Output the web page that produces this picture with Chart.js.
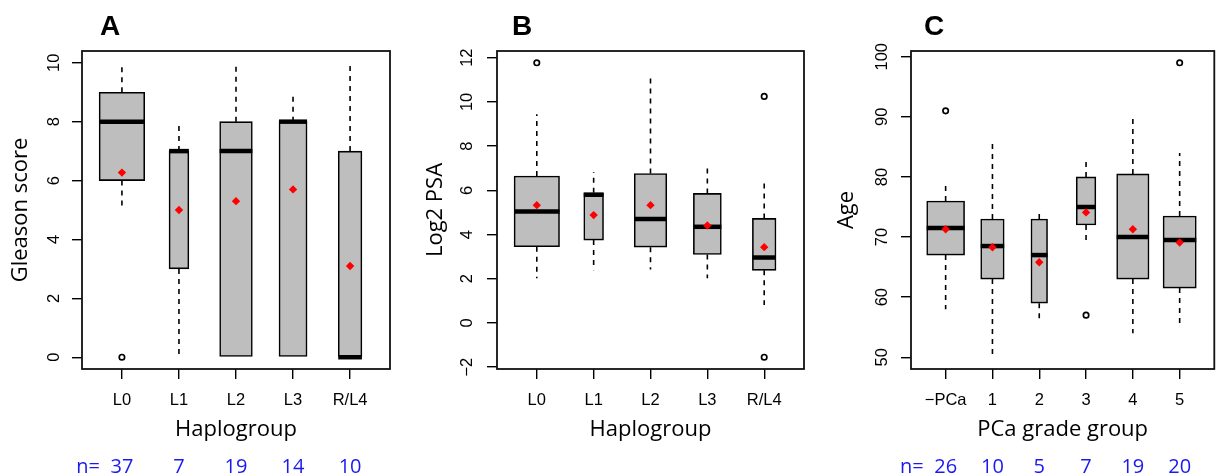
<!DOCTYPE html>
<html>
<head>
<meta charset="utf-8">
<script src="https://cdn.jsdelivr.net/npm/chart.js@4.4.1/dist/chart.umd.min.js"></script>
<style>
  body { margin: 0; background: #fff; }
  #wrap { position: relative; width: 1220px; height: 476px; overflow: hidden; }
  canvas { position: absolute; top: 0; }
</style>
</head>
<body>
<div id="wrap">
  <canvas id="chartA" width="405" height="476" style="left:0"></canvas>
  <canvas id="chartB" width="410" height="476" style="left:405px"></canvas>
  <canvas id="chartC" width="405" height="476" style="left:815px"></canvas>
</div>
<script>
// ---- A: Gleason score by haplogroup ----
const haploGroups = ['L0', 'L1', 'L2', 'L3', 'R/L4'];
const haploCounts = [37, 7, 19, 14, 10];
const gleasonLow = [5, 0, 0, 0, 0];
const gleasonQ1 = [6, 3, 0, 0, 0];
const gleasonMedian = [8, 7, 7, 8, 0];
const gleasonQ3 = [9, 7, 8, 8, 7];
const gleasonHigh = [10, 8, 10, 9, 10];
const gleasonMean = [6.27, 5.0, 5.3, 5.7, 3.1];
const gleasonOutliers = [[0], [], [], [], []];
const gleasonTicks = [0, 2, 4, 6, 8, 10];

// ---- B: log2 PSA by haplogroup ----
const psaLow = [2.02, 2.39, 2.42, 2.02, 0.81];
const psaQ1 = [3.45, 3.75, 3.43, 3.10, 2.38];
const psaMedian = [5.04, 5.80, 4.70, 4.35, 2.96];
const psaQ3 = [6.65, 5.89, 6.76, 5.86, 4.73];
const psaHigh = [9.44, 6.83, 11.13, 7.17, 6.35];
const psaMean = [5.33, 4.88, 5.33, 4.41, 3.43];
const psaOutliers = [[11.77], [], [], [], [10.25, -1.55]];
const psaTicks = [-2, 0, 2, 4, 6, 8, 10, 12];

// ---- C: age by PCa grade group ----
const gradeGroups = ['\u2212PCa', '1', '2', '3', '4', '5'];
const gradeCounts = [26, 10, 5, 7, 19, 20];
const ageLow = [58, 50, 56, 69, 54, 55];
const ageQ1 = [67, 63, 59, 72, 63, 61.5];
const ageMedian = [71.5, 68.5, 67, 75, 70, 69.5];
const ageQ3 = [76, 73, 73, 80, 80.5, 73.5];
const ageHigh = [79, 86, 74, 83, 90, 84];
const ageMean = [71.3, 68.3, 65.8, 74.1, 71.3, 69.1];
const ageOutliers = [[91], [], [], [57], [], [99]];
const ageTicks = [50, 60, 70, 80, 90, 100];

const TICK_FONT = { family: "'Liberation Sans', Arial, sans-serif", size: 16.5 };
const TITLE_FONT = { family: "'Open Sans', sans-serif", size: 22 };
const H = 476, PLOT_TOP = 51, PLOT_BOTTOM = 369;

// medians, frame, panel letter and the n= row
const boxExtras = {
  id: 'boxExtras',
  afterDatasetDraw(chart, args) {
    const ds = chart.data.datasets[args.index];
    if (!ds.isBox) return;
    const bar = args.meta.data[0];
    const y = chart.scales.y.getPixelForValue(ds.median);
    const ctx = chart.ctx;
    ctx.save();
    ctx.strokeStyle = '#000';
    ctx.lineWidth = 4.5;
    ctx.beginPath();
    ctx.moveTo(bar.x - bar.width / 2, y);
    ctx.lineTo(bar.x + bar.width / 2, y);
    ctx.stroke();
    ctx.restore();
  },
  afterDraw(chart, args, opts) {
    const { ctx, chartArea: a } = chart;
    ctx.save();
    ctx.strokeStyle = '#111';
    ctx.lineWidth = 1.8;
    ctx.strokeRect(a.left, a.top, a.right - a.left, a.bottom - a.top);

    ctx.fillStyle = '#000';
    ctx.font = "bold 28px 'Liberation Sans', Arial, sans-serif";
    ctx.textAlign = 'center';
    ctx.textBaseline = 'alphabetic';
    ctx.fillText(opts.letter, opts.letterX, 35);

    if (opts.counts) {
      const xs = chart.scales.x;
      ctx.fillStyle = '#1a1aee';
      ctx.font = "20px 'Open Sans', sans-serif";
      opts.counts.forEach((c, i) => ctx.fillText(String(c), xs.getPixelForValue(i + 1), 473));
      ctx.textAlign = 'right';
      ctx.fillText('n=', xs.getPixelForValue(1) - 22, 473);
    }
    ctx.restore();
  }
};

function boxPanel(id, p) {
  const n = p.groups.length;
  const xMin = 0.5 - 0.04 * n, xMax = n + 0.5 + 0.04 * n;
  const step = (p.plotRight - p.plotLeft) / (xMax - xMin);
  const maxN = Math.max(...p.counts);
  const all = [...p.low, ...p.high, ...p.outliers.flat()];
  const lo = Math.min(...all), hi = Math.max(...all);
  const pad = 0.04 * (hi - lo);

  const datasets = [];
  p.groups.forEach((g, i) => {
    datasets.push({
      type: 'bar',
      isBox: true,
      median: p.median[i],
      data: [{ x: i + 1, y: [p.q1[i], p.q3[i]] }],
      barThickness: 0.8 * step * Math.sqrt(p.counts[i] / maxN),
      grouped: false,
      backgroundColor: '#bebebe',
      borderColor: '#000',
      borderWidth: 1.6,
      borderSkipped: false,
      order: 3
    });
  });

  const whiskers = [];
  p.groups.forEach((g, i) => {
    whiskers.push({ x: i + 1, y: p.q3[i] }, { x: i + 1, y: p.high[i] }, { x: i + 1, y: null });
    whiskers.push({ x: i + 1, y: p.q1[i] }, { x: i + 1, y: p.low[i] }, { x: i + 1, y: null });
  });
  datasets.push({
    type: 'line', data: whiskers, borderColor: '#000', borderWidth: 1.6,
    borderDash: [5, 5], pointRadius: 0, spanGaps: false, order: 2
  });

  const outs = [];
  p.outliers.forEach((list, i) => list.forEach(v => outs.push({ x: i + 1, y: v })));
  datasets.push({
    type: 'scatter', data: outs, pointStyle: 'circle', pointRadius: 2.7,
    pointBorderWidth: 1.7, pointBorderColor: '#000', pointBackgroundColor: '#fff', order: 1
  });

  datasets.push({
    type: 'scatter', data: p.mean.map((v, i) => ({ x: i + 1, y: v })),
    pointStyle: 'rectRot', pointRadius: 4.2, pointBorderWidth: 0,
    pointBackgroundColor: '#ff0000', pointBorderColor: '#ff0000', order: 0
  });

  return new Chart(document.getElementById(id), {
    type: 'bar',
    data: { datasets },
    options: {
      responsive: false,
      animation: false,
      layout: { padding: { left: 0, top: PLOT_TOP, right: p.width - p.plotRight, bottom: 0 } },
      plugins: {
        legend: { display: false },
        tooltip: { enabled: false },
        boxExtras: { letter: p.letter, letterX: p.letterX, counts: p.showCounts ? p.counts : null }
      },
      scales: {
        x: {
          type: 'linear',
          min: xMin,
          max: xMax,
          offset: false,
          afterBuildTicks: s => { s.ticks = p.groups.map((g, i) => ({ value: i + 1 })); },
          afterFit: s => { s.height = H - PLOT_BOTTOM; },
          ticks: {
            autoSkip: false, maxRotation: 0, padding: 12, color: '#000', font: TICK_FONT,
            callback: v => p.groups[v - 1]
          },
          grid: { offset: false, drawOnChartArea: false, tickLength: 10, color: '#000', lineWidth: 1.4 },
          border: { display: false },
          title: { display: true, text: p.xTitle, color: '#000', font: TITLE_FONT, padding: { top: 0, bottom: 33 } }
        },
        y: {
          type: 'linear',
          min: lo - pad,
          max: hi + pad,
          afterBuildTicks: s => { s.ticks = p.ticks.map(v => ({ value: v })); },
          afterFit: s => { s.width = p.plotLeft; },
          ticks: {
            minRotation: 90, maxRotation: 90, crossAlign: 'center', padding: p.tickPad,
            color: '#000', font: TICK_FONT,
            callback: v => String(v).replace('-', '\u2212')
          },
          grid: { drawOnChartArea: false, tickLength: 10, color: '#000', lineWidth: 1.4 },
          border: { display: false },
          title: { display: true, text: p.yTitle, color: '#000', font: TITLE_FONT, padding: { top: p.titlePad, bottom: 0 } }
        }
      }
    },
    plugins: [boxExtras]
  });
}

boxPanel('chartA', {
  groups: haploGroups, counts: haploCounts, showCounts: true,
  low: gleasonLow, q1: gleasonQ1, median: gleasonMedian, q3: gleasonQ3, high: gleasonHigh,
  mean: gleasonMean, outliers: gleasonOutliers, ticks: gleasonTicks,
  xTitle: 'Haplogroup', yTitle: 'Gleason score', letter: 'A', letterX: 110,
  width: 405, plotLeft: 82, plotRight: 390, tickPad: 8, titlePad: 8
});

boxPanel('chartB', {
  groups: haploGroups, counts: haploCounts, showCounts: false,
  low: psaLow, q1: psaQ1, median: psaMedian, q3: psaQ3, high: psaHigh,
  mean: psaMean, outliers: psaOutliers, ticks: psaTicks,
  xTitle: 'Haplogroup', yTitle: 'Log2 PSA', letter: 'B', letterX: 117,
  width: 410, plotLeft: 92, plotRight: 399, tickPad: 10, titlePad: 18
});

boxPanel('chartC', {
  groups: gradeGroups, counts: gradeCounts, showCounts: true,
  low: ageLow, q1: ageQ1, median: ageMedian, q3: ageQ3, high: ageHigh,
  mean: ageMean, outliers: ageOutliers, ticks: ageTicks,
  xTitle: 'PCa grade group', yTitle: 'Age', letter: 'C', letterX: 119,
  width: 405, plotLeft: 96, plotRight: 403, tickPad: 5, titlePad: 19
});
</script>
</body>
</html>
